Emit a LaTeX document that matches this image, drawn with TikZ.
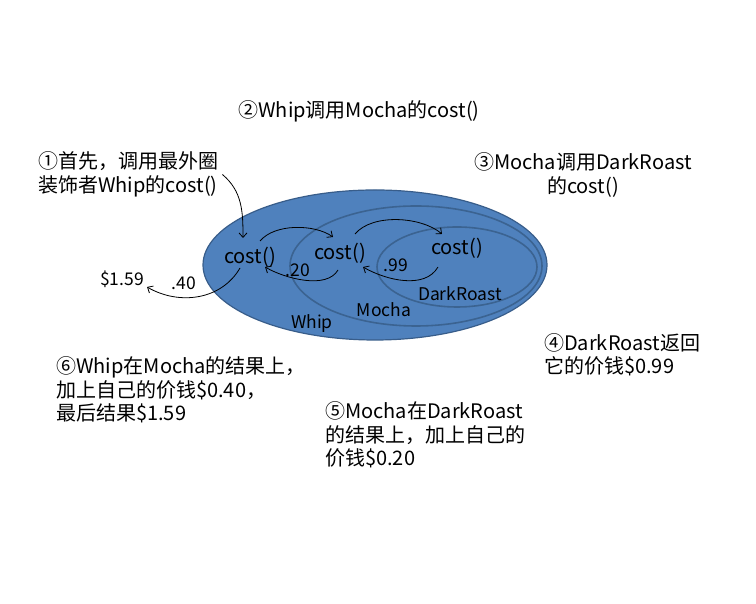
\documentclass[tikz,border=0pt]{standalone}
\usepackage{fontspec}
\setmainfont{Noto Sans CJK SC}
\usepackage{tikz}
\usetikzlibrary{arrows.meta,positioning,shapes}
\definecolor{fillblue}{HTML}{4F81BD}
\definecolor{edgeblue}{HTML}{385D8A}
\definecolor{ringblue}{HTML}{3B6391}

\begin{document}
\begin{tikzpicture}[x=1pt,y=1pt,
    note/.style={font=\fontsize{20}{23.5}\selectfont,inner sep=0pt},
    inner/.style={font=\fontsize{17.5}{20}\selectfont,inner sep=1pt},
    costnode/.style={font=\fontsize{20}{22}\selectfont,inner sep=1pt},
    call/.style={-{Straight Barb[length=4.5pt,width=8pt]},line width=0.8pt,black},
    ring/.style={draw=ringblue,line width=1.6pt}]
    \useasboundingbox (0,0) rectangle (756,604);

    % Decorator rings (Whip outside, then Mocha, then DarkRoast)
    \draw[fill=fillblue,draw=edgeblue,line width=1.2pt] (375,339) ellipse [x radius=172,y radius=75];
    \draw[ring] (416,338) ellipse [x radius=126,y radius=60];
    \draw[ring] (457,337) ellipse [x radius=80,y radius=40];

    % Ring names
    \node[inner] (lblW) at (312,280) {Whip};
    \node[inner] (lblM) at (384,294) {Mocha};
    \node[inner] (lblD) at (460,310) {DarkRoast};

    % cost() calls and returned values
    \node[costnode] (costW) at (250,347) {cost()};
    \node[costnode] (costM) at (340,351) {cost()};
    \node[costnode] (costD) at (457,356) {cost()};
    \node[inner] (v20) at (298,334) {.20};
    \node[inner] (v99) at (396,339) {.99};
    \node[inner] (v40) at (184,321) {.40};
    \node[inner] (price) at (122,325) {\$1.59};

    % Step notes
    \node[note] (step2) at (359,493) {②Whip调用Mocha的cost()};
    \node[note,anchor=west,align=left] (step1) at (38,429.5) {①首先，调用最外圈\\装饰者Whip的cost()};
    \node[note,align=center] (step3) at (583,429) {③Mocha调用DarkRoast\\的cost()};
    \node[note,anchor=west,align=left] (step4) at (544,249) {④DarkRoast返回\\它的价钱\$0.99};
    \node[note,anchor=west,align=left] (step5) at (325,169) {⑤Mocha在DarkRoast\\的结果上，加上自己的\\价钱\$0.20};
    \node[note,anchor=west,align=left] (step6) at (56,214) {⑥Whip在Mocha的结果上，\\加上自己的价钱\$0.40，\\最后结果\$1.59};

    % Calls going in
    \draw[call] ([xshift=4pt]step1.east) to[out=-40,in=90] ([shift={(-7,19)}]costW.center);
    \draw[call] ([shift={(10,16)}]costW.center) to[out=50,in=145,looseness=0.8] ([shift={(-7,16)}]costM.center);
    \draw[call] ([shift={(15,19)}]costM.center) to[out=50,in=140,looseness=0.8] ([shift={(-15,14)}]costD.center);

    % Values coming back
    \draw[call] ([shift={(-2,-17)}]costM.center) to[out=-120,in=-30,looseness=0.8] ([shift={(15,-10)}]costW.center);
    \draw[call] ([shift={(-19,-19)}]costD.center) to[out=-120,in=-30,looseness=0.9] ([shift={(23,-14)}]costM.center);
    \draw[call] ([shift={(-10,-11)}]costW.center) to[out=-120,in=-30] ([shift={(25,-8)}]price.center);
\end{tikzpicture}
\end{document}
